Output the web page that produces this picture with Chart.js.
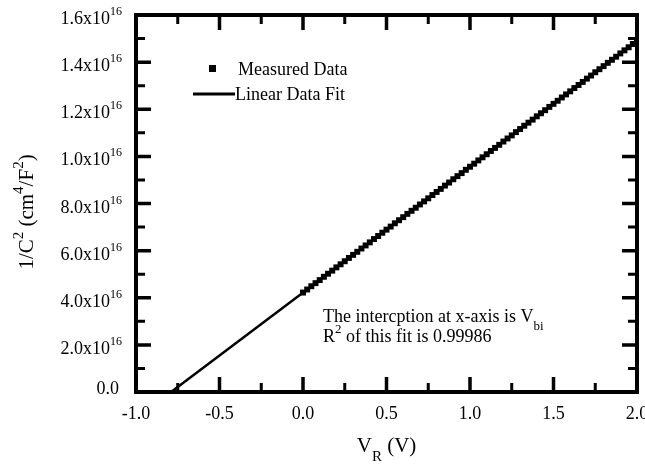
<!DOCTYPE html>
<html>
<head>
<meta charset="utf-8">
<script src="https://cdn.jsdelivr.net/npm/chart.js@4.4.0/dist/chart.umd.min.js"></script>
<style>
  html, body { margin: 0; padding: 0; background: #fff; }
</style>
</head>
<body>
<canvas id="myChart" width="645" height="464"></canvas>
<script>
// reverse bias sweep (V) and measured 1/C^2 (x1e15 cm^4/F^2)
const voltage = [
  0.000, 0.025, 0.050, 0.075, 0.100, 0.125, 0.150, 0.175, 0.200, 0.225,
  0.250, 0.275, 0.300, 0.325, 0.350, 0.375, 0.400, 0.425, 0.450, 0.475,
  0.500, 0.525, 0.550, 0.575, 0.600, 0.625, 0.650, 0.675, 0.700, 0.725,
  0.750, 0.775, 0.800, 0.825, 0.850, 0.875, 0.900, 0.925, 0.950, 0.975,
  1.000, 1.025, 1.050, 1.075, 1.100, 1.125, 1.150, 1.175, 1.200, 1.225,
  1.250, 1.275, 1.300, 1.325, 1.350, 1.375, 1.400, 1.425, 1.450, 1.475,
  1.500, 1.525, 1.550, 1.575, 1.600, 1.625, 1.650, 1.675, 1.700, 1.725,
  1.750, 1.775, 1.800, 1.825, 1.850, 1.875, 1.900, 1.925, 1.950, 1.975,
  2.000
];
const invC2 = [
  4.22, 4.35, 4.49, 4.62, 4.75, 4.89, 5.02, 5.15, 5.29, 5.42,
  5.55, 5.69, 5.82, 5.95, 6.09, 6.22, 6.35, 6.49, 6.62, 6.76,
  6.89, 7.02, 7.16, 7.29, 7.42, 7.56, 7.69, 7.82, 7.96, 8.09,
  8.22, 8.36, 8.49, 8.62, 8.76, 8.89, 9.03, 9.16, 9.29, 9.43,
  9.56, 9.69, 9.83, 9.96, 10.09, 10.23, 10.36, 10.49, 10.63, 10.76,
  10.89, 11.03, 11.16, 11.30, 11.43, 11.56, 11.70, 11.83, 11.96, 12.10,
  12.23, 12.36, 12.50, 12.63, 12.76, 12.90, 13.03, 13.16, 13.30, 13.43,
  13.57, 13.70, 13.83, 13.97, 14.10, 14.23, 14.37, 14.50, 14.63, 14.77,
  14.90
];

// linear fit end points
const fitVoltage = [-0.79, 2.0];
const fitInvC2 = [0, 14.9];

const xMajor = [-1.0, -0.5, 0.0, 0.5, 1.0, 1.5, 2.0];
const xMinor = [-0.75, -0.25, 0.25, 0.75, 1.25, 1.75];
const xTickLabels = ['-1.0', '-0.5', '0.0', '0.5', '1.0', '1.5', '2.0'];
const yMajor = [0, 2, 4, 6, 8, 10, 12, 14, 16];
const yMinor = [1, 3, 5, 7, 9, 11, 13, 15];
const yTickLabels = ['0.0', '2.0x10', '4.0x10', '6.0x10', '8.0x10', '1.0x10', '1.2x10', '1.4x10', '1.6x10'];
const yTickExp = ['', '16', '16', '16', '16', '16', '16', '16', '16'];

const FONT = '"Liberation Serif", "Times New Roman", serif';

// draw a run of [text, 'n'|'sup'|'sub'] parts starting at x, baseline y
function richWidth(ctx, parts, size) {
  let w = 0;
  parts.forEach(p => {
    ctx.font = (p[1] === 'n' ? size : Math.round(size * 0.72)) + 'px ' + FONT;
    w += ctx.measureText(p[0]).width;
  });
  return w;
}
function richText(ctx, parts, x, y, size) {
  ctx.textAlign = 'left';
  ctx.textBaseline = 'alphabetic';
  parts.forEach(p => {
    let dy = 0;
    if (p[1] === 'n') {
      ctx.font = size + 'px ' + FONT;
    } else {
      ctx.font = Math.round(size * 0.72) + 'px ' + FONT;
      dy = p[1] === 'sup' ? -size * 0.5 : size * 0.45;
    }
    ctx.fillText(p[0], x, y + dy);
    x += ctx.measureText(p[0]).width;
  });
}

const framePlugin = {
  id: 'frame',
  afterDraw(chart) {
    const ctx = chart.ctx;
    const xs = chart.scales.x, ys = chart.scales.y;
    const a = chart.chartArea;
    ctx.save();
    ctx.strokeStyle = '#000';
    ctx.fillStyle = '#000';

    // box
    ctx.lineWidth = 4;
    ctx.strokeRect(a.left, a.top, a.right - a.left, a.bottom - a.top);

    // inward ticks on all four sides
    function tickX(v, len, w) {
      const px = xs.getPixelForValue(v);
      ctx.lineWidth = w;
      ctx.beginPath();
      ctx.moveTo(px, a.bottom); ctx.lineTo(px, a.bottom - len);
      ctx.moveTo(px, a.top); ctx.lineTo(px, a.top + len);
      ctx.stroke();
    }
    function tickY(v, len, w) {
      const py = ys.getPixelForValue(v);
      ctx.lineWidth = w;
      ctx.beginPath();
      ctx.moveTo(a.left, py); ctx.lineTo(a.left + len, py);
      ctx.moveTo(a.right, py); ctx.lineTo(a.right - len, py);
      ctx.stroke();
    }
    xMajor.forEach(v => tickX(v, 15, 3.5));
    xMinor.forEach(v => tickX(v, 9, 3));
    yMajor.forEach(v => tickY(v, 15, 3.5));
    yMinor.forEach(v => tickY(v, 9, 3));

    // x tick labels
    ctx.font = '18px ' + FONT;
    ctx.textAlign = 'center';
    ctx.textBaseline = 'alphabetic';
    xMajor.forEach((v, i) => {
      ctx.fillText(xTickLabels[i], xs.getPixelForValue(v), 419);
    });

    // y tick labels with exponent
    yMajor.forEach((v, i) => {
      const py = ys.getPixelForValue(v);
      if (yTickExp[i]) {
        ctx.font = '12px ' + FONT;
        ctx.textAlign = 'right';
        ctx.fillText(yTickExp[i], 122, py + 0);
        const ew = ctx.measureText(yTickExp[i]).width;
        ctx.font = '18px ' + FONT;
        ctx.fillText(yTickLabels[i], 122 - ew, py + 9);
      } else {
        ctx.font = '18px ' + FONT;
        ctx.textAlign = 'right';
        ctx.fillText(yTickLabels[i], 119, py + 2);
      }
    });

    // axis titles
    const xt = [['V', 'n'], ['R', 'sub'], [' (V)', 'n']];
    const xw = richWidth(ctx, xt, 21);
    richText(ctx, xt, (a.left + a.right) / 2 - xw / 2, 452, 21);

    const yt = [['1/C', 'n'], ['2', 'sup'], [' (cm', 'n'], ['4', 'sup'], ['/F', 'n'], ['2', 'sup'], [')', 'n']];
    const yw = richWidth(ctx, yt, 21);
    ctx.save();
    ctx.translate(33, 212);
    ctx.rotate(-Math.PI / 2);
    richText(ctx, yt, -yw / 2, 0, 21);
    ctx.restore();

    // legend
    ctx.fillRect(209, 65, 7, 7);
    ctx.lineWidth = 3;
    ctx.beginPath();
    ctx.moveTo(193, 94); ctx.lineTo(235, 94);
    ctx.stroke();
    richText(ctx, [['Measured Data', 'n']], 238, 75, 18);
    richText(ctx, [['Linear Data Fit', 'n']], 235, 100, 18);

    // fit notes
    richText(ctx, [['The intercption at x-axis is V', 'n'], ['bi', 'sub']], 323, 322, 18);
    richText(ctx, [['R', 'n'], ['2', 'sup'], [' of this fit is 0.99986', 'n']], 323, 342, 18);

    ctx.restore();
  }
};

const measured = voltage.map((v, i) => ({ x: v, y: invC2[i] }));
const fit = fitVoltage.map((v, i) => ({ x: v, y: fitInvC2[i] }));

const config = {
  type: 'scatter',
  data: {
    datasets: [{
      label: 'Measured Data',
      data: measured,
      pointStyle: 'rect',
      pointRadius: 4.2,
      backgroundColor: '#000',
      borderWidth: 0,
      showLine: false
    }, {
      label: 'Linear Data Fit',
      data: fit,
      showLine: true,
      borderColor: '#000',
      borderWidth: 2.5,
      pointRadius: 0
    }]
  },
  options: {
    responsive: false,
    animation: false,
    layout: { padding: { left: 136, top: 15, right: 8, bottom: 72 } },
    plugins: { legend: { display: false }, tooltip: { enabled: false } },
    scales: {
      x: { type: 'linear', min: -1, max: 2, display: false },
      y: { type: 'linear', min: 0, max: 16, display: false }
    }
  },
  plugins: [framePlugin]
};

const myChart = new Chart(document.getElementById('myChart'), config);
</script>
</body>
</html>
